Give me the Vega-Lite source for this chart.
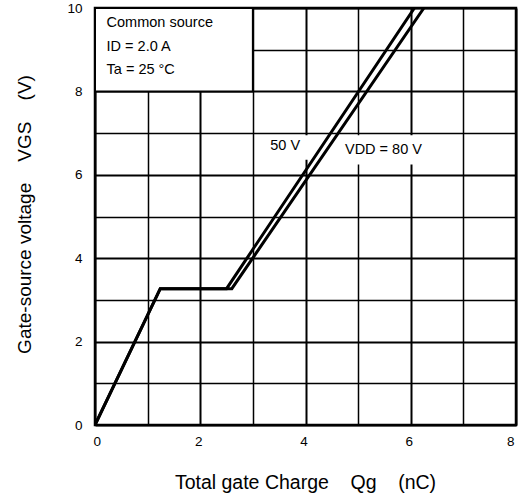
{
  "$schema": "https://vega.github.io/schema/vega-lite/v6.json",
  "width": 421,
  "height": 417,
  "autosize": "none",
  "padding": {"left": 95, "top": 8, "right": 5, "bottom": 72},
  "background": "white",
  "config": {
    "font": "Liberation Sans",
    "view": {"stroke": "black", "strokeWidth": 2.5},
    "axis": {
      "domain": false,
      "ticks": false,
      "grid": true,
      "gridColor": "black",
      "gridOpacity": 1,
      "gridWidth": {"condition": {"test": "datum.value % 2 === 0", "value": 2}, "value": 1.5},
      "labelFont": "Liberation Sans",
      "labelFontSize": 13.5,
      "labelColor": "black",
      "titleFont": "Liberation Sans",
      "titleFontSize": 19.5,
      "titleFontWeight": "normal",
      "titleColor": "black"
    }
  },
  "datasets": {
    "curves": [
      {"vdd": "50 V", "q": 0, "vgs": 0},
      {"vdd": "50 V", "q": 1.24, "vgs": 3.27},
      {"vdd": "50 V", "q": 2.5, "vgs": 3.27},
      {"vdd": "50 V", "q": 6.07, "vgs": 10},
      {"vdd": "80 V", "q": 0, "vgs": 0},
      {"vdd": "80 V", "q": 1.24, "vgs": 3.27},
      {"vdd": "80 V", "q": 2.6, "vgs": 3.27},
      {"vdd": "80 V", "q": 6.25, "vgs": 10}
    ],
    "boxes": [
      {"name": "cond", "x1": 0, "x2": 3, "y1": 8, "y2": 10, "edge": 2},
      {"name": "l50", "x1": 3.25, "x2": 4.05, "y1": 6.36, "y2": 6.95, "edge": 0},
      {"name": "l80", "x1": 4.7, "x2": 6.3, "y1": 6.25, "y2": 6.95, "edge": 0}
    ],
    "notes": [
      {"label": "Common source", "x": 0.22, "y": 9.64},
      {"label": "ID = 2.0 A", "x": 0.22, "y": 9.07},
      {"label": "Ta = 25 °C", "x": 0.22, "y": 8.51},
      {"label": "50 V", "x": 3.33, "y": 6.68},
      {"label": "VDD = 80 V", "x": 4.75, "y": 6.6}
    ]
  },
  "layer": [
    {
      "data": {"name": "curves"},
      "mark": {"type": "line", "color": "black", "strokeWidth": 3, "strokeJoin": "miter", "clip": true},
      "encoding": {
        "x": {
          "field": "q",
          "type": "quantitative",
          "scale": {"domain": [0, 8], "nice": false},
          "axis": {
            "values": [0, 1, 2, 3, 4, 5, 6, 7, 8],
            "labelExpr": "datum.value % 2 === 0 ? datum.label : ''",
            "labelPadding": 9,
            "labelOffset": -2,
            "title": "Total gate Charge\u00a0\u00a0\u00a0\u00a0Qg\u00a0\u00a0\u00a0\u00a0(nC)",
            "titleX": 210,
            "titleY": 57,
            "titleBaseline": "middle"
          }
        },
        "y": {
          "field": "vgs",
          "type": "quantitative",
          "scale": {"domain": [0, 10], "nice": false},
          "axis": {
            "values": [0, 1, 2, 3, 4, 5, 6, 7, 8, 9, 10],
            "labelExpr": "datum.value % 2 === 0 ? datum.label : ''",
            "labelPadding": 13,
            "title": "Gate-source voltage\u00a0\u00a0\u00a0\u00a0VGS\u00a0\u00a0\u00a0\u00a0(V)",
            "titleFontSize": 19,
            "titleX": -71,
            "titleY": 206,
            "titleBaseline": "middle"
          }
        },
        "detail": {"field": "vdd", "type": "nominal"}
      }
    },
    {
      "data": {"name": "boxes"},
      "mark": {"type": "rect", "fill": "white", "stroke": "black"},
      "encoding": {
        "x": {"field": "x1", "type": "quantitative"},
        "x2": {"field": "x2"},
        "y": {"field": "y1", "type": "quantitative"},
        "y2": {"field": "y2"},
        "strokeWidth": {"field": "edge", "type": "quantitative", "scale": null}
      }
    },
    {
      "data": {"name": "notes"},
      "mark": {"type": "text", "align": "left", "baseline": "middle", "fontSize": 14.5, "color": "black", "font": "Liberation Sans"},
      "encoding": {
        "x": {"field": "x", "type": "quantitative"},
        "y": {"field": "y", "type": "quantitative"},
        "text": {"field": "label"}
      }
    }
  ]
}
